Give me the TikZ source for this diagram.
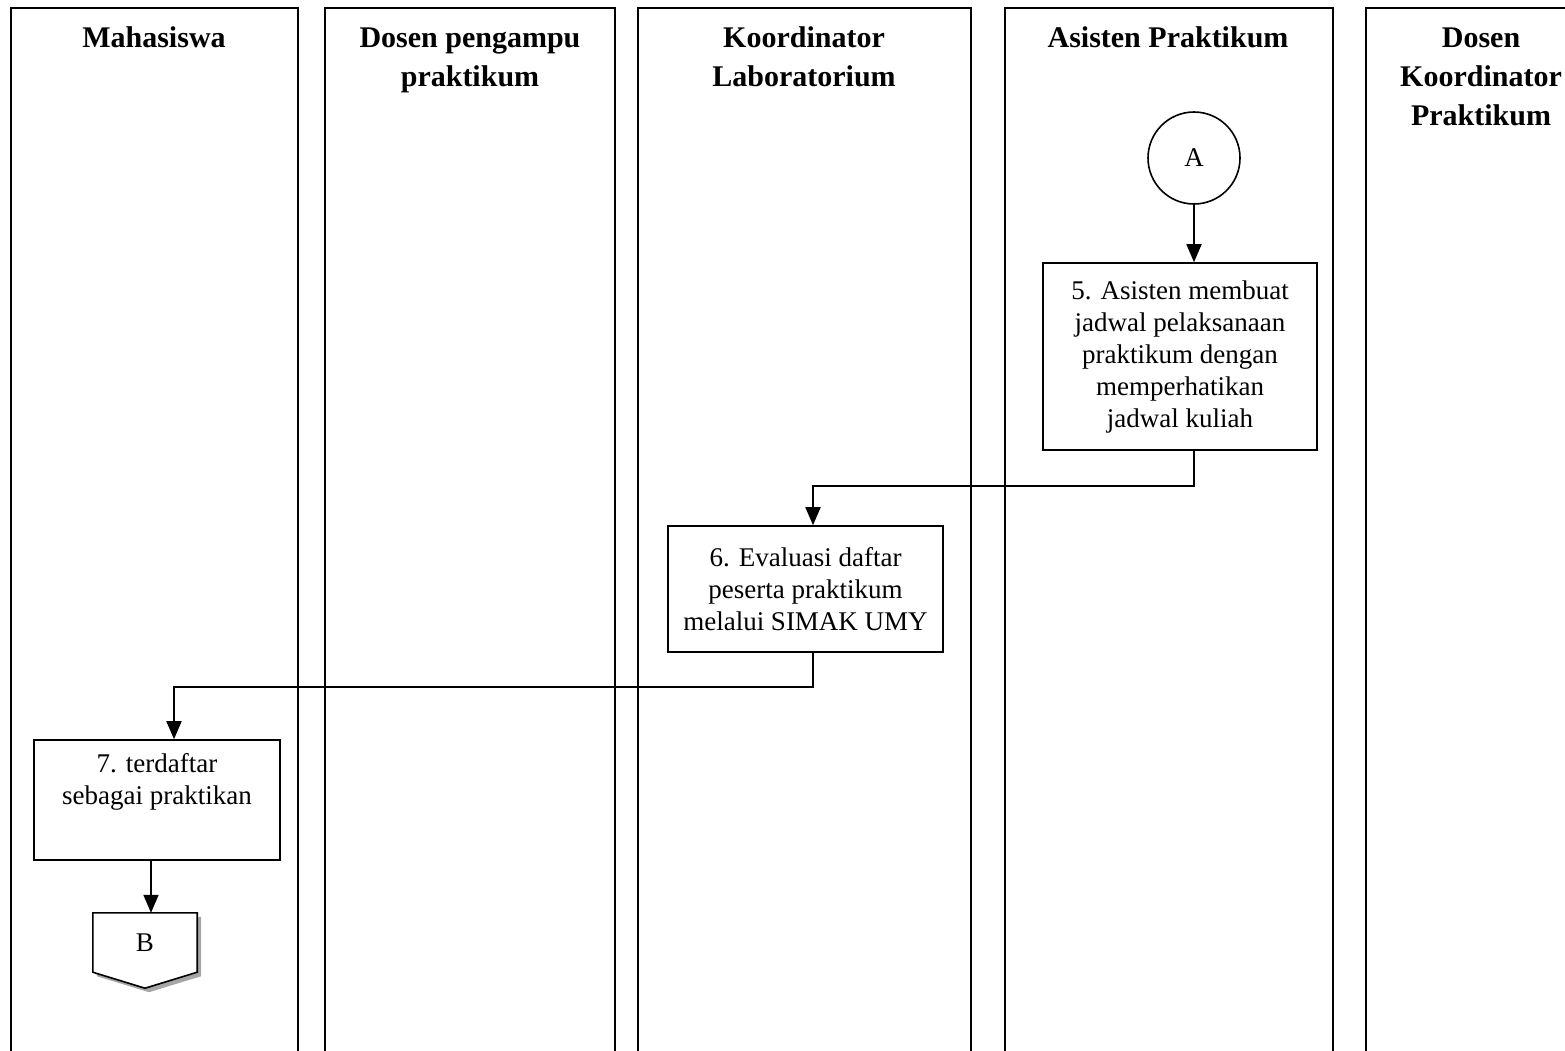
\documentclass[tikz,border=0pt]{standalone}
\usepackage{fontspec}
\setmainfont{Liberation Serif}
\usetikzlibrary{arrows.meta,calc}
\begin{document}
\begin{tikzpicture}[x=1pt,y=-1pt,
  lane/.style={draw=black,line width=1.8pt},
  head/.style={font=\fontsize{30}{39}\selectfont\bfseries,align=center,anchor=base,inner sep=0pt},
  proc/.style={draw=black,line width=1.6pt,align=center,font=\fontsize{27}{32}\selectfont,inner sep=0pt},
  conn/.style={draw=black,line width=1.6pt,circle,minimum size=92pt,inner sep=0pt,font=\fontsize{27}{32}\selectfont},
  flow/.style={line width=1.8pt,-{Triangle[width=15pt,length=18pt]}}]
\useasboundingbox (0,0) rectangle (1565,1050);
\clip (0,0) rectangle (1565,1050);

% swimlanes
\draw[lane] (11,8) rectangle (298,1080);
\draw[lane] (325,8) rectangle (615,1080);
\draw[lane] (638,8) rectangle (971,1080);
\draw[lane] (1005,8) rectangle (1333,1080);
\draw[lane] (1366,8) rectangle (1600,1080);

% lane headings (placed by the baseline of their last line)
\node[head] (h1) at (154,47) {Mahasiswa};
\node[head] (h2) at (470,86) {Dosen pengampu\\praktikum};
\node[head] (h3) at (804,86) {Koordinator\\Laboratorium};
\node[head] (h4) at (1168,47) {Asisten Praktikum};
\node[head] (h5) at (1481,125) {Dosen\\Koordinator\\Praktikum};

% steps
\node[conn] (A) at (1194,158) {A};
\node[proc,minimum width=274pt,minimum height=187pt] (s5) at (1180,356.5)
  {5. Asisten membuat\\jadwal pelaksanaan\\praktikum dengan\\memperhatikan\\jadwal kuliah};
\node[proc,minimum width=275pt,minimum height=126pt] (s6) at (805.5,589)
  {6. Evaluasi daftar\\peserta praktikum\\melalui SIMAK UMY};
\node[proc,minimum width=246pt,minimum height=120pt] (s7) at (157,800)
  {7. terdaftar\\sebagai praktikan\\\strut};

% off-page connector B with drop shadow
\node[inner sep=0pt,minimum width=104pt,minimum height=59pt] (B) at (145,942.5) {};
\fill[gray!70] ($(B.north west)+(4,4)$) -- ($(B.north east)+(4,4)$) -- ($(B.south east)+(4,4)$)
  -- ($(B.south)+(4,20)$) -- ($(B.south west)+(4,4)$) -- cycle;
\draw[line width=1.6pt,fill=white] (B.north west) -- (B.north east) -- (B.south east)
  -- ($(B.south)+(0,16)$) -- (B.south west) -- cycle;
\node[font=\fontsize{27}{32}\selectfont] at (B) {B};

% connectors
\coordinate (j1) at (813,486);
\coordinate (j2) at (174,687);
\coordinate (j3) at (151,900);
\draw[flow] (A.south) -- (A.south |- s5.north);
\draw[flow] (s5.south -| A) |- (j1) -- (j1 |- s6.north);
\draw[flow] (s6.south -| j1) |- (j2) -- (j2 |- s7.north);
\draw[flow] (s7.south -| j3) -- (B.north -| j3);
\end{tikzpicture}
\end{document}
